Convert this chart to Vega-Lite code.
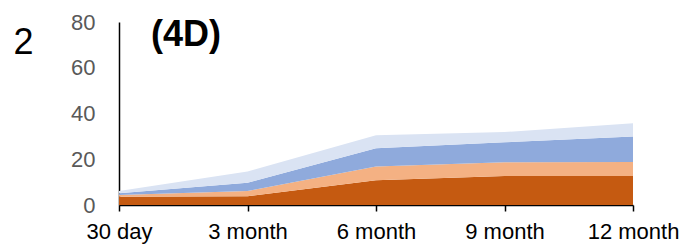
{
  "$schema": "https://vega.github.io/schema/vega-lite/v6.json",
  "autosize": "none",
  "padding": {"left": 119, "top": 22, "right": 67, "bottom": 46},
  "width": 514,
  "height": 183,
  "background": "white",
  "config": {"view": {"stroke": null}, "font": "Liberation Sans"},
  "title": {"text": "(4D)", "anchor": "start", "frame": "group", "orient": "top", "offset": 0, "dx": 32, "dy": 71, "baseline": "alphabetic", "fontSize": 36, "fontWeight": "bold", "color": "black", "font": "Liberation Sans"},
  "data": {"values": [
    {"time": "30 day", "series": "S1", "ord": 1, "value": 3.6},
    {"time": "30 day", "series": "S2", "ord": 2, "value": 0.8},
    {"time": "30 day", "series": "S3", "ord": 3, "value": 0.7},
    {"time": "30 day", "series": "S4", "ord": 4, "value": 1.0},
    {"time": "3 month", "series": "S1", "ord": 1, "value": 3.8},
    {"time": "3 month", "series": "S2", "ord": 2, "value": 2.3},
    {"time": "3 month", "series": "S3", "ord": 3, "value": 3.6},
    {"time": "3 month", "series": "S4", "ord": 4, "value": 4.9},
    {"time": "6 month", "series": "S1", "ord": 1, "value": 10.8},
    {"time": "6 month", "series": "S2", "ord": 2, "value": 6.0},
    {"time": "6 month", "series": "S3", "ord": 3, "value": 8.0},
    {"time": "6 month", "series": "S4", "ord": 4, "value": 5.7},
    {"time": "9 month", "series": "S1", "ord": 1, "value": 12.7},
    {"time": "9 month", "series": "S2", "ord": 2, "value": 6.0},
    {"time": "9 month", "series": "S3", "ord": 3, "value": 8.7},
    {"time": "9 month", "series": "S4", "ord": 4, "value": 4.5},
    {"time": "12 month", "series": "S1", "ord": 1, "value": 12.7},
    {"time": "12 month", "series": "S2", "ord": 2, "value": 6.1},
    {"time": "12 month", "series": "S3", "ord": 3, "value": 11.1},
    {"time": "12 month", "series": "S4", "ord": 4, "value": 5.8}
  ]},
  "mark": {"type": "area", "opacity": 1},
  "encoding": {
    "x": {"field": "time", "type": "ordinal", "sort": ["30 day", "3 month", "6 month", "9 month", "12 month"],
      "scale": {"type": "point", "padding": 0},
      "axis": {"title": null, "labelAngle": 0, "labelFontSize": 22, "labelColor": "black", "labelPadding": 10, "domainColor": "black", "domainWidth": 1.5, "tickColor": "black", "tickWidth": 1.5, "tickSize": 6, "labelFont": "Liberation Sans", "grid": false}},
    "y": {"field": "value", "type": "quantitative", "stack": "zero",
      "scale": {"domain": [0, 80], "nice": false},
      "axis": {"values": [0, 20, 40, 60, 80], "grid": false, "ticks": false, "labelPadding": 24, "labelFontSize": 22, "labelColor": "#595959", "labelFont": "Liberation Sans", "domainColor": "black", "domainWidth": 1.5,
        "title": "2", "titleAngle": 0, "titleAlign": "left", "titleBaseline": "alphabetic", "titleX": -106, "titleY": 31, "titleFontSize": 36, "titleFontWeight": "normal", "titleColor": "black", "titleFont": "Liberation Sans"}},
    "color": {"field": "series", "type": "nominal", "scale": {"domain": ["S1", "S2", "S3", "S4"], "range": ["#C55A11", "#F4B183", "#8FAADC", "#DAE3F3"]}, "legend": null},
    "order": {"field": "ord", "type": "quantitative"}
  }
}
